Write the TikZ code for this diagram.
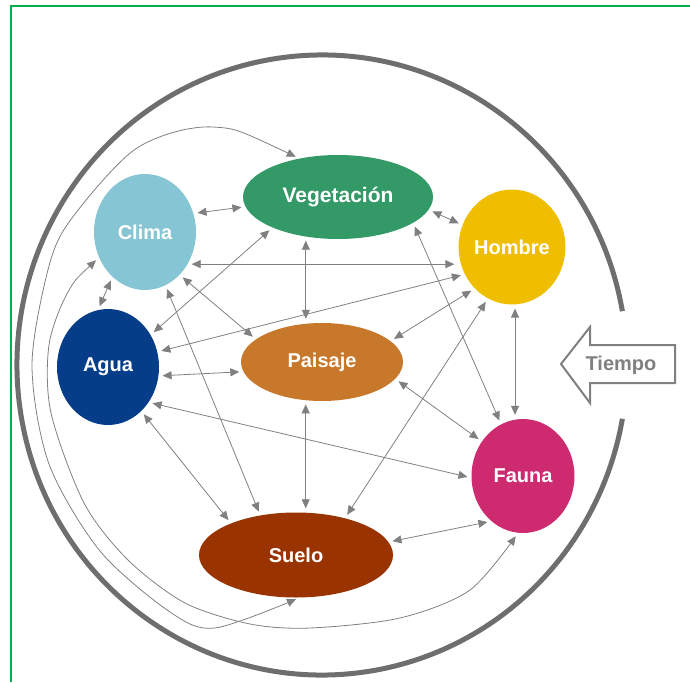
\documentclass[tikz,border=0pt]{standalone}
\usepackage{fontspec}
\setmainfont{Liberation Sans}
\usepackage{xcolor}
\usepackage{tikz}
\usetikzlibrary{positioning,arrows.meta,shapes.geometric,calc}
\definecolor{climacol}{HTML}{86C5D3}
\definecolor{vegcol}{HTML}{339966}
\definecolor{hombrecol}{HTML}{F0BE00}
\definecolor{aguacol}{HTML}{063D88}
\definecolor{paisajecol}{HTML}{C8782A}
\definecolor{faunacol}{HTML}{CD2A6F}
\definecolor{suelocol}{HTML}{993300}
\definecolor{linkgray}{HTML}{808080}
\definecolor{ringgray}{HTML}{6E6E6E}
\definecolor{framegreen}{HTML}{00B050}
\tikzset{
  link/.style={{Triangle[length=9pt,width=8pt]}-{Triangle[length=9pt,width=8pt]}, line width=0.8pt, draw=linkgray, shorten >=4pt, shorten <=4pt},
  every node/.style={anchor=center}
}

\begin{document}
\begin{tikzpicture}[
  x=1pt, y=-1pt,
  blob/.style={ellipse, inner sep=0pt, text=white, font=\bfseries\fontsize{20}{24}\selectfont},
  ring/.style={line width=5pt, draw=ringgray},
  frame/.style={line width=2.5pt, draw=framegreen},
  timearrow/.style={line width=2pt, draw=linkgray, fill=white, line join=miter}
]
\useasboundingbox (0,0) rectangle (690,682);
\draw[frame] (11,682) -- (11,6) -- (690,6);

% ring with the opening for time
\coordinate (mid) at (322,365);
\draw[ring] (mid) ++(10:305pt and 310pt) arc[start angle=10, end angle=350, x radius=305pt, y radius=310pt];
\draw[timearrow] (561,364) -- (590,327) -- (590,345) -- (675,345) -- (675,383) -- (590,383) -- (590,403) -- cycle;
\node[text=linkgray, font=\bfseries\fontsize{20}{24}\selectfont] (tiempo) at (621,365) {Tiempo};

\node[blob, fill=climacol, minimum width=102pt, minimum height=116pt] (clima) at (145,232) {Clima};
\node[blob, fill=vegcol, minimum width=190pt, minimum height=84pt, font=\bfseries\fontsize{21}{25}\selectfont] (veg) at (338,197) {Vegetación};
\node[blob, fill=hombrecol, minimum width=103pt, minimum height=115pt] (hombre) at (512,247) {Hombre};
\node[blob, fill=aguacol, minimum width=102pt, minimum height=116pt] (agua) at (108,367) {Agua};
\node[blob, fill=paisajecol, minimum width=162pt, minimum height=78pt] (paisaje) at (322,362) {Paisaje};
\node[blob, fill=faunacol, minimum width=103pt, minimum height=114pt] (fauna) at (523,476) {Fauna};
\node[blob, fill=suelocol, minimum width=194pt, minimum height=85pt] (suelo) at (296,555) {Suelo};

\draw[link] (clima.21) -- (veg.186);
\draw[link] (veg.352) -- (hombre.156);
\draw[link] (clima.323) -- (clima.323 -| hombre.west);
\draw[link] (veg.231) -- (veg.231 |- paisaje.north);
\draw[link] (veg.205) -- (agua.37);
\draw[link] (clima.309) -- (paisaje.161);
\draw[link] (clima.291) -- (suelo.132);
\draw[link] (agua.17) -- (hombre.210);
\draw[link] (agua.350) -- (paisaje.187);
\draw[link] (agua.319) -- (fauna.182);
\draw[link] (agua.307) -- (suelo.154);
\draw[link] (clima.234) -- (agua.100);
\draw[link] (paisaje.17) -- (hombre.228);
\draw[link] (suelo.37) -- (hombre.245);
\draw[link] (veg.341) -- (fauna.113);
\draw[link] (hombre.273) -- (hombre.273 |- fauna.north);
\draw[link] (paisaje.347) -- (fauna.140);
\draw[link] (paisaje.247) -- (paisaje.247 |- suelo.north);
\draw[link] (suelo.8) -- (fauna.235);

% long curves round the left side
\draw[link] plot[smooth] coordinates {(veg.135) (213,127) (137,148) (72,218) (49,266) (32,365) (49,464) (100,551) (170,612) (215,628) (suelo.275)};
\draw[link] plot[smooth] coordinates {(clima.209) (68,292) (49,345) (51,413) (84,503) (128,560) (185,603) (250,624) (310,628) (400,618) (470,590) (fauna.265)};
\end{tikzpicture}
\end{document}
